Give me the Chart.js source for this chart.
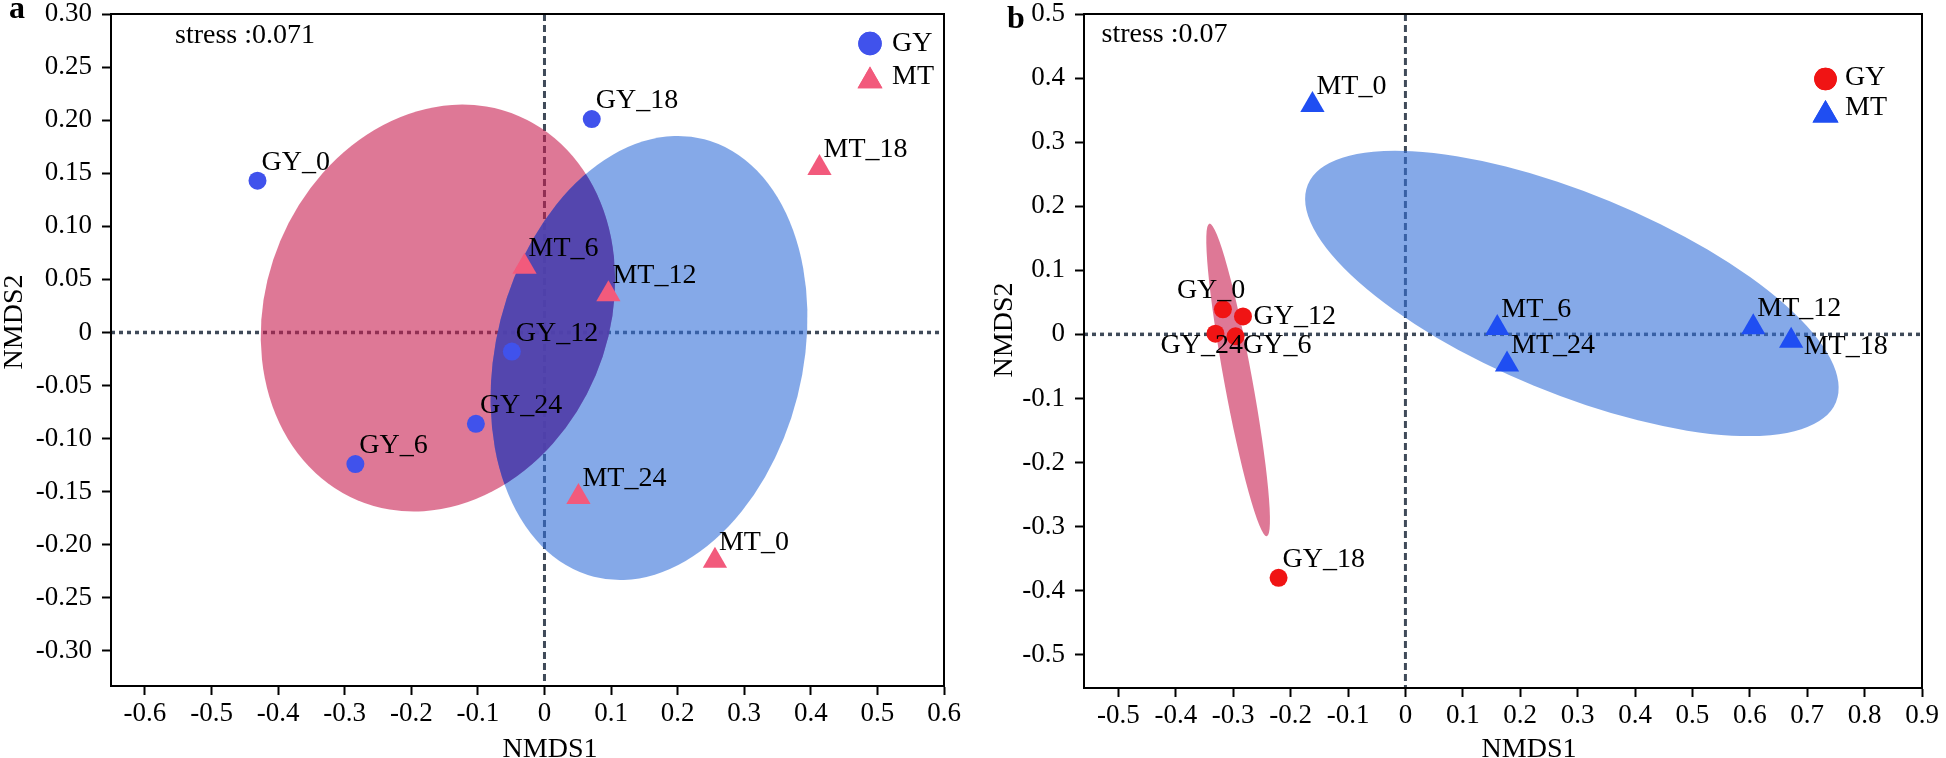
<!DOCTYPE html>
<html>
<head>
<meta charset="utf-8">
<script src="https://cdn.jsdelivr.net/npm/chart.js@4.4.0/dist/chart.umd.min.js"></script>
<style>
  html, body { margin: 0; padding: 0; background: #fff; }
  .panel { position: absolute; top: 0; width: 973px; height: 758px; }
  #panelA { left: 0; }
  #panelB { left: 973px; }
</style>
</head>
<body>
<div class="panel" id="panelA"><canvas id="chartA" width="973" height="758"></canvas></div>
<div class="panel" id="panelB"><canvas id="chartB" width="973" height="758"></canvas></div>
<script>
// ========== PANEL A DATA ==========
const aGyLabels = ['GY_0', 'GY_6', 'GY_12', 'GY_18', 'GY_24'];
const aGyX = [-0.431, -0.284, -0.049, 0.071, -0.103];
const aGyY = [0.143, -0.124, -0.018, 0.201, -0.086];
const aMtLabels = ['MT_0', 'MT_6', 'MT_12', 'MT_18', 'MT_24'];
const aMtX = [0.256, -0.030, 0.096, 0.413, 0.051];
const aMtY = [-0.215, 0.062, 0.036, 0.155, -0.155];
const aXTicks = [-0.6, -0.5, -0.4, -0.3, -0.2, -0.1, 0, 0.1, 0.2, 0.3, 0.4, 0.5, 0.6];
const aXTickLabels = ['-0.6', '-0.5', '-0.4', '-0.3', '-0.2', '-0.1', '0', '0.1', '0.2', '0.3', '0.4', '0.5', '0.6'];
const aYTicks = [-0.30, -0.25, -0.20, -0.15, -0.10, -0.05, 0, 0.05, 0.10, 0.15, 0.20, 0.25, 0.30];
const aYTickLabels = ['-0.30', '-0.25', '-0.20', '-0.15', '-0.10', '-0.05', '0', '0.05', '0.10', '0.15', '0.20', '0.25', '0.30'];
const aXRange = [-0.651, 0.6];
const aYRange = [-0.333, 0.30];
// confidence ellipses [GY, MT]: centre + two conjugate half-axes (NMDS units)
const aEllCx = [-0.160, 0.157];
const aEllCy = [0.023, -0.024];
const aEllAx = [0.121, 0.083];
const aEllAy = [0.181, 0.206];
const aEllBx = [-0.237, -0.223];
const aEllBy = [0.063, 0.036];
const aStress = 'stress :0.071';

// ========== PANEL B DATA ==========
const bGyLabels = ['GY_0', 'GY_6', 'GY_12', 'GY_18', 'GY_24'];
const bGyX = [-0.318, -0.296, -0.283, -0.221, -0.331];
const bGyY = [0.039, -0.003, 0.028, -0.380, 0.001];
const bMtLabels = ['MT_0', 'MT_6', 'MT_12', 'MT_18', 'MT_24'];
const bMtX = [-0.162, 0.160, 0.606, 0.672, 0.177];
const bMtY = [0.358, 0.010, 0.011, -0.010, -0.047];
const bXTicks = [-0.5, -0.4, -0.3, -0.2, -0.1, 0, 0.1, 0.2, 0.3, 0.4, 0.5, 0.6, 0.7, 0.8, 0.9];
const bXTickLabels = ['-0.5', '-0.4', '-0.3', '-0.2', '-0.1', '0', '0.1', '0.2', '0.3', '0.4', '0.5', '0.6', '0.7', '0.8', '0.9'];
const bYTicks = [-0.5, -0.4, -0.3, -0.2, -0.1, 0, 0.1, 0.2, 0.3, 0.4, 0.5];
const bYTickLabels = ['-0.5', '-0.4', '-0.3', '-0.2', '-0.1', '0', '0.1', '0.2', '0.3', '0.4', '0.5'];
const bXRange = [-0.56, 0.9];
const bYRange = [-0.552, 0.5];
const bEllCx = [-0.2915, 0.290];
const bEllCy = [-0.0712, 0.0638];
const bEllAx = [-0.0500, 0.4601];
const bEllAy = [0.2440, -0.1697];
const bEllBx = [0.0240, 0.0660];
const bEllBy = [0.0039, 0.1441];
const bStress = 'stress :0.07';

const SERIF = '"Liberation Serif", "Times New Roman", serif';

// label offsets (px) from point, baseline-left of text
const defaultOffset = [4, -11];
const bOffsets = {
    'GY_0': [-46, -11.5], 'GY_12': [10.5, 8], 'GY_24': [-55, 19], 'GY_6': [7.5, 16.5],
    'MT_18': [12.5, 13], 'MT_24': [4, -11]
};

// ========== PLUGIN ==========
const nmdsPlugin = {
    id: 'nmds',
    beforeDatasetsDraw(chart) {
        const p = chart.options.plugins.nmds;
        const { ctx, chartArea: ca } = chart;
        const xs = chart.scales.x, ys = chart.scales.y;
        ctx.save();
        ctx.beginPath();
        ctx.rect(ca.left, ca.top, ca.right - ca.left, ca.bottom - ca.top);
        ctx.clip();

        // garis nol
        ctx.strokeStyle = '#3f4a59';
        ctx.lineWidth = 3.5;
        const y0 = ys.getPixelForValue(0);
        ctx.setLineDash([4, 4]);
        ctx.beginPath(); ctx.moveTo(ca.left, y0); ctx.lineTo(ca.right, y0); ctx.stroke();
        const x0 = xs.getPixelForValue(0);
        ctx.lineWidth = 3;
        ctx.setLineDash([7, 4]);
        ctx.beginPath(); ctx.moveTo(x0, ca.top); ctx.lineTo(x0, ca.bottom); ctx.stroke();
        ctx.setLineDash([]);

        // ellipse
        const kx = xs.getPixelForValue(1) - xs.getPixelForValue(0);
        const ky = ys.getPixelForValue(1) - ys.getPixelForValue(0);
        const e = p.ell;
        const ellPath = i => {
            ctx.beginPath();
            ctx.save();
            ctx.transform(e.ax[i] * kx, e.ay[i] * ky, e.bx[i] * kx, e.by[i] * ky,
                xs.getPixelForValue(e.cx[i]), ys.getPixelForValue(e.cy[i]));
            ctx.arc(0, 0, 1, 0, Math.PI * 2);
            ctx.restore();
        };
        ellPath(0); ctx.fillStyle = 'rgba(200,30,80,0.6)'; ctx.fill();
        ellPath(1); ctx.fillStyle = 'rgba(52,112,217,0.6)'; ctx.fill();
        // overlap
        ctx.save();
        ellPath(0); ctx.clip();
        ellPath(1); ctx.fillStyle = 'rgba(78,62,171,0.85)'; ctx.fill();
        ctx.restore();
        ctx.restore();
    },
    afterDatasetsDraw(chart) {
        const p = chart.options.plugins.nmds;
        const { ctx } = chart;
        ctx.save();
        ctx.fillStyle = '#000';
        ctx.font = '28px ' + SERIF;
        ctx.textAlign = 'left';
        ctx.textBaseline = 'alphabetic';
        chart.data.datasets.forEach((ds, di) => {
            const meta = chart.getDatasetMeta(di);
            meta.data.forEach((pt, i) => {
                const name = ds.names[i];
                const off = (p.offsets && p.offsets[name]) || defaultOffset;
                ctx.fillText(name, pt.x + off[0], pt.y + off[1]);
            });
        });
        ctx.restore();
    },
    afterDraw(chart) {
        const p = chart.options.plugins.nmds;
        const { ctx, chartArea: ca } = chart;
        ctx.save();
        // bingkai
        ctx.strokeStyle = '#000';
        ctx.lineWidth = 2;
        ctx.strokeRect(ca.left, ca.top, ca.right - ca.left, ca.bottom - ca.top);

        ctx.fillStyle = '#000';
        ctx.textBaseline = 'alphabetic';
        // stress
        ctx.font = '28px ' + SERIF;
        ctx.textAlign = 'left';
        ctx.fillText(p.stress, p.stressPos[0], p.stressPos[1]);
        // huruf panel
        ctx.font = 'bold 32px ' + SERIF;
        ctx.fillText(p.letter, p.letterPos[0], p.letterPos[1]);
        // judul sumbu
        ctx.font = '28px ' + SERIF;
        ctx.textAlign = 'center';
        ctx.fillText('NMDS1', p.xTitlePos[0], p.xTitlePos[1]);
        ctx.save();
        ctx.translate(p.yTitlePos[0], p.yTitlePos[1]);
        ctx.rotate(-Math.PI / 2);
        ctx.fillText('NMDS2', 0, 0);
        ctx.restore();
        // legend
        const lg = p.legend;
        chart.data.datasets.forEach((ds, di) => {
            const cy = lg.y[di];
            ctx.fillStyle = ds.backgroundColor;
            Chart.helpers.drawPoint(ctx, { pointStyle: ds.pointStyle, radius: lg.r[di], rotation: 0, borderWidth: 0 }, lg.x, cy);
            ctx.fill();
            ctx.fillStyle = '#000';
            ctx.textAlign = 'left';
            ctx.fillText(ds.label, lg.textX, lg.textY[di]);
        });
        ctx.restore();
    }
};

function buildPanel(canvasId, p) {
    const axisCommon = {
        type: 'linear',
        grid: { display: true, drawOnChartArea: false, drawTicks: true, tickLength: 9, tickWidth: 2, tickColor: '#000' },
        border: { display: true, color: '#000', width: 2 }
    };
    return new Chart(document.getElementById(canvasId), {
        type: 'scatter',
        data: {
            datasets: [
                {
                    label: 'GY', names: p.gyLabels,
                    data: p.gyX.map((v, i) => ({ x: v, y: p.gyY[i] })),
                    pointStyle: 'circle', pointRadius: 9, pointHoverRadius: 9,
                    backgroundColor: p.gyColor, borderWidth: 0
                },
                {
                    label: 'MT', names: p.mtLabels,
                    data: p.mtX.map((v, i) => ({ x: v, y: p.mtY[i] })),
                    pointStyle: 'triangle', pointRadius: 14, pointHoverRadius: 14,
                    backgroundColor: p.mtColor, borderWidth: 0
                }
            ]
        },
        options: {
            responsive: false,
            animation: false,
            devicePixelRatio: 1,
            layout: { padding: { left: 0, top: p.padTop, right: p.padRight, bottom: 0 } },
            plugins: { legend: { display: false }, tooltip: { enabled: false }, nmds: p },
            scales: {
                x: Object.assign({}, axisCommon, {
                    min: p.xRange[0], max: p.xRange[1],
                    afterBuildTicks: s => { s.ticks = p.xTicks.map(v => ({ value: v })); },
                    afterFit: s => { s.height = p.xAxisH; s.paddingLeft = 0; s.paddingRight = 0; },
                    ticks: {
                        color: '#000', padding: 3, autoSkip: false, maxRotation: 0,
                        font: { family: SERIF, size: 27 },
                        callback: (v, i) => p.xTickLabels[i]
                    }
                }),
                y: Object.assign({}, axisCommon, {
                    min: p.yRange[0], max: p.yRange[1],
                    afterBuildTicks: s => { s.ticks = p.yTicks.map(v => ({ value: v })); },
                    afterFit: s => { s.width = p.yAxisW; s.paddingTop = 0; s.paddingBottom = 0; },
                    ticks: {
                        color: '#000', padding: 10, autoSkip: false,
                        font: { family: SERIF, size: 27 },
                        callback: (v, i) => p.yTickLabels[i]
                    }
                })
            }
        },
        plugins: [nmdsPlugin]
    });
}

buildPanel('chartA', {
    gyLabels: aGyLabels, gyX: aGyX, gyY: aGyY, mtLabels: aMtLabels, mtX: aMtX, mtY: aMtY,
    gyColor: '#4052ec', mtColor: '#f25a7c',
    xTicks: aXTicks, xTickLabels: aXTickLabels, yTicks: aYTicks, yTickLabels: aYTickLabels,
    xRange: aXRange, yRange: aYRange,
    ell: { cx: aEllCx, cy: aEllCy, ax: aEllAx, ay: aEllAy, bx: aEllBx, by: aEllBy },
    stress: aStress, letter: 'a',
    padTop: 12, padRight: 29, xAxisH: 72, yAxisW: 111,
    stressPos: [175, 43], letterPos: [9, 18],
    xTitlePos: [550, 757], yTitlePos: [22, 322],
    legend: { x: 870, y: [43.5, 81], r: [11.7, 14.4], textX: 892, textY: [51, 84] },
    offsets: null
});

buildPanel('chartB', {
    gyLabels: bGyLabels, gyX: bGyX, gyY: bGyY, mtLabels: bMtLabels, mtX: bMtX, mtY: bMtY,
    gyColor: '#f01414', mtColor: '#1f4ef2',
    xTicks: bXTicks, xTickLabels: bXTickLabels, yTicks: bYTicks, yTickLabels: bYTickLabels,
    xRange: bXRange, yRange: bYRange,
    ell: { cx: bEllCx, cy: bEllCy, ax: bEllAx, ay: bEllAy, bx: bEllBx, by: bEllBy },
    stress: bStress, letter: 'b',
    padTop: 14, padRight: 24, xAxisH: 70, yAxisW: 111,
    stressPos: [128.5, 42], letterPos: [34, 28],
    xTitlePos: [556, 757], yTitlePos: [39, 330],
    legend: { x: 852.5, y: [79, 115], r: [11.3, 15], textX: 872, textY: [85, 115] },
    offsets: bOffsets
});
</script>
</body>
</html>
